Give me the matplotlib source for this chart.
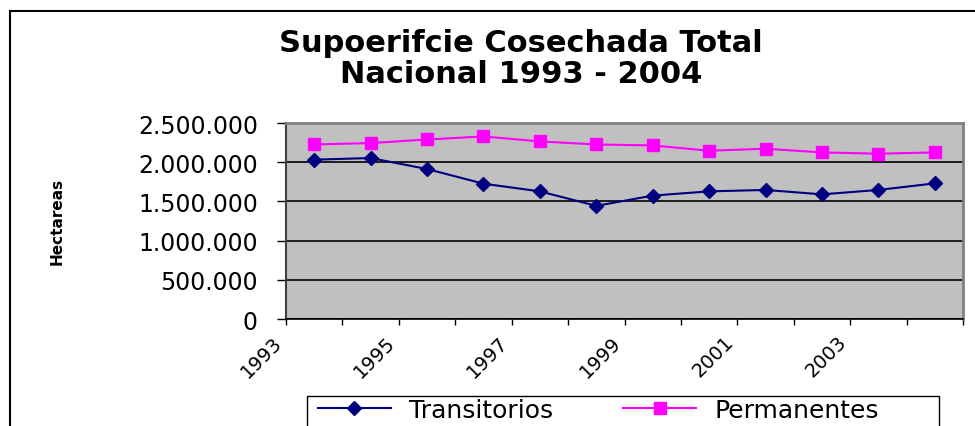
import matplotlib
matplotlib.use("Agg")
import matplotlib.pyplot as plt
import matplotlib.transforms as mtransforms
from matplotlib.lines import Line2D
from matplotlib.patches import Rectangle
import numpy as np

years = [1993, 1994, 1995, 1996, 1997, 1998, 1999, 2000, 2001, 2002, 2003, 2004]
transitorios = [2032000, 2053000, 1913000, 1726000, 1628000, 1443000,
                1574000, 1628000, 1646000, 1590000, 1646000, 1730000]
permanentes = [2226000, 2244000, 2290000, 2328000, 2265000, 2226000,
               2214000, 2146000, 2172000, 2125000, 2108000, 2125000]
yticks = [0, 500000, 1000000, 1500000, 2000000, 2500000]
ytick_labels = ["0", "500.000", "1.000.000", "1.500.000", "2.000.000", "2.500.000"]
xtick_labels = ["1993", "1995", "1997", "1999", "2001", "2003"]
title = "Supoerifcie Cosechada Total\nNacional 1993 - 2004"
ylabel = "Hectareas"
series_names = ["Transitorios", "Permanentes"]

plt.rcParams['font.family'] = ['DejaVu Sans']

W, H = 975, 427
fig = plt.figure(figsize=(W / 100, H / 100), dpi=100)

def fx(px):
    return px / W

def fy(py):
    return 1 - py / H

PT = 72 / 100  # points per pixel

# outer chart frame (left and top edges visible)
fig.add_artist(Line2D([fx(10), fx(10)], [fy(12), 0], color='black', lw=1.5,
                      transform=fig.transFigure))
fig.add_artist(Line2D([fx(10), 1], [fy(12), fy(12)], color='black', lw=1.5,
                      transform=fig.transFigure))

left, right, top, bottom = 286, 963, 124, 320
ax = fig.add_axes([fx(left), fy(bottom), fx(right - left), (bottom - top) / H])
ax.set_facecolor('#C0C0C0')

n = len(years)
x = np.arange(n) + 0.5
ax.plot(x, transitorios, color='#000080', lw=1.5, marker='D', markersize=7,
        markerfacecolor='#000080', markeredgecolor='#000080', label=series_names[0], zorder=3)
ax.plot(x, permanentes, color='#FF00FF', lw=1.5, marker='s', markersize=8,
        markerfacecolor='#FF00FF', markeredgecolor='#FF00FF', label=series_names[1], zorder=3)

ax.set_xlim(0, n)
ax.set_ylim(0, 2500000)
ax.set_yticks(yticks)
ax.set_yticklabels(ytick_labels, fontsize=17)
ax.yaxis.grid(True, color='black', lw=1.2)
ax.set_axisbelow(True)

ax.set_xticks(np.arange(n + 1))
lbls = []
for i in range(n + 1):
    if i % 2 == 0 and i // 2 < len(xtick_labels):
        lbls.append(xtick_labels[i // 2])
    else:
        lbls.append("")
ax.set_xticklabels(lbls, fontsize=14, rotation=45, ha='right', va='top')
offset = mtransforms.ScaledTranslation(-12 / 100, 0, fig.dpi_scale_trans)
for lab in ax.xaxis.get_majorticklabels():
    lab.set_transform(lab.get_transform() + offset)

ax.tick_params(axis='y', direction='out', length=9 * PT, width=1, pad=19 * PT, colors='black')
ax.tick_params(axis='x', direction='out', length=6 * PT, width=1, pad=7 * PT, colors='black')

for s in ['top', 'right']:
    ax.spines[s].set_color('#808080')
    ax.spines[s].set_linewidth(2)
ax.spines['left'].set_color('#404040')
ax.spines['left'].set_linewidth(1.5)
ax.spines['bottom'].set_color('black')
ax.spines['bottom'].set_linewidth(1.2)

fig.text(fx(521), fy(59), title, ha='center', va='center', fontsize=22,
         fontweight='bold', linespacing=1.05)
fig.text(fx(57), fy(221), ylabel, ha='center', va='center', rotation=90,
         fontsize=11, fontweight='bold')

# legend box (extends below the visible area)
fig.add_artist(Rectangle((fx(307), fy(470)), fx(939 - 307), (470 - 397) / H,
                         transform=fig.transFigure, facecolor='white',
                         edgecolor='black', lw=1))
leg = fig.legend(loc='center left', bbox_to_anchor=(fx(318), fy(411)),
                 bbox_transform=fig.transFigure, ncol=2, fontsize=18,
                 frameon=False, handlelength=2.9, columnspacing=2.8,
                 borderaxespad=0, borderpad=0, handletextpad=0.75)

fig.savefig('out.png', dpi=100)
